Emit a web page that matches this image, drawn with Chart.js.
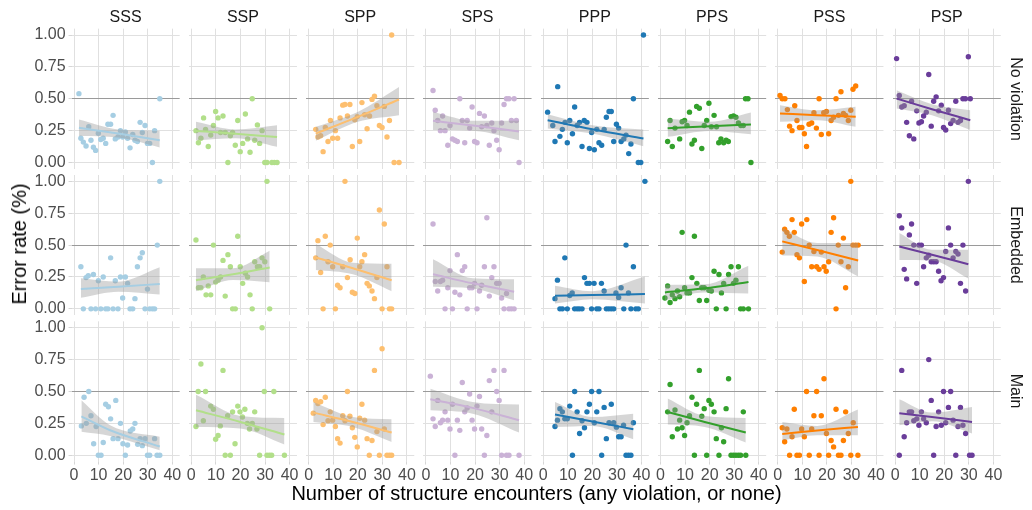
<!DOCTYPE html>
<html>
<head>
<meta charset="utf-8">
<script src="https://cdn.jsdelivr.net/npm/chart.js@4.4.1/dist/chart.umd.min.js"></script>
<style>
  body { margin: 0; background: #fff; }
  #stage { position: relative; width: 1032px; height: 510px; overflow: hidden; font-family: "Liberation Sans", Arial, sans-serif; }
  #stage canvas { position: absolute; left: 0; top: 0; }
  .lab { position: absolute; white-space: nowrap; line-height: 1; }
</style>
</head>
<body>
<div id="stage"></div>
<script>
// facets
const structures = ['SSS', 'SSP', 'SPP', 'SPS', 'PPP', 'PPS', 'PSS', 'PSP'];
const conditions = ['No violation', 'Embedded', 'Main'];
const colors = ['#a6cee3', '#b2df8a', '#fdbf6f', '#cab2d6', '#1f78b4', '#33a02c', '#ff7f00', '#6a3d9a'];
const xTicks = [0, 10, 20, 30, 40];
const yTicks = [0, 0.25, 0.5, 0.75, 1];

// [encounters, error rate] per facet
// --- No violation
const sssNone = [[2.0,.54],[2.8,.19],[3.8,.16],[4.9,.13],[6.0,.28],[6.9,.175],[7.9,.12],[8.8,.095],[9.9,.23],[10.9,.18],[11.9,.19],[12.9,.15],[13.8,.30],[14.9,.30],[15.9,.37],[16.8,.185],[17.9,.20],[18.9,.25],[19.8,.20],[20.9,.24],[21.8,.19],[22.8,.115],[23.9,.22],[24.8,.175],[25.8,.165],[26.9,.315],[27.8,.235],[28.9,.29],[29.9,.15],[30.8,.15],[31.9,0],[32.8,.25],[34.9,.5]];
const sspNone = [[1.9,.25],[2.9,.155],[3.9,.19],[5.0,.35],[5.8,.26],[6.9,.125],[7.9,.215],[9.0,.29],[9.9,.40],[10.9,.35],[11.9,.235],[12.9,.365],[13.8,.235],[14.9,0],[15.9,.21],[16.8,.235],[17.9,.135],[18.9,.33],[19.9,.085],[20.9,.15],[22.0,.38],[22.9,.185],[23.9,.08],[24.8,.5],[25.8,.175],[26.9,.295],[27.8,.15],[28.8,.25],[29.9,0],[30.8,0],[32.8,0],[33.8,0],[34.9,0]];
const sppNone = [[2.9,.26],[3.8,.20],[4.9,.21],[5.9,.085],[6.8,.275],[7.9,.165],[8.9,.33],[9.8,.19],[10.9,.25],[11.8,.19],[12.8,.35],[13.9,.45],[14.8,.455],[15.8,.365],[16.8,.455],[17.8,.125],[18.8,.335],[19.8,.36],[20.8,.165],[21.7,.47],[22.8,.375],[23.8,.265],[24.8,.365],[25.8,.495],[26.8,.52],[27.8,.445],[28.8,.29],[29.9,.275],[30.8,.44],[31.9,.20],[32.9,.33],[33.8,1],[34.8,0],[36.8,0]];
const spsNone = [[2.9,.565],[3.8,.41],[4.8,.33],[5.9,.25],[6.8,.365],[7.8,.25],[8.9,.135],[9.8,.29],[10.8,.185],[11.8,.175],[12.8,.165],[13.8,.5],[14.8,.33],[15.8,.155],[16.8,.33],[17.8,.27],[18.8,.435],[19.8,.165],[20.8,.155],[21.8,.385],[22.7,.28],[23.8,.365],[24.8,.29],[25.8,.135],[26.8,.31],[27.7,.25],[28.8,.175],[29.8,.10],[30.8,.31],[31.8,.455],[32.8,.5],[33.8,.5],[34.8,.33],[35.9,.5],[36.8,.33],[37.9,0]];
const pppNone = [[1.8,.395],[3.9,.29],[4.8,.165],[5.9,.595],[6.8,.205],[7.8,.26],[8.9,.315],[9.8,.155],[10.8,.33],[11.9,.225],[12.8,.435],[13.8,.29],[14.8,.315],[15.8,.125],[16.7,.33],[17.8,.315],[18.8,.11],[19.7,.235],[20.8,.10],[21.8,.26],[22.7,.155],[23.8,.135],[24.8,.26],[25.7,.355],[26.8,.40],[27.7,.40],[28.7,.165],[29.8,.30],[30.7,.27],[31.7,.165],[32.8,.185],[33.7,.215],[34.8,.07],[35.7,.145],[36.7,.5],[38.7,0],[39.7,0],[40.8,1]];
const ppsNone = [[2.9,.165],[3.9,.33],[4.8,.125],[5.9,.27],[7.8,.185],[8.8,.32],[9.8,.33],[10.8,.29],[11.8,.395],[12.8,.145],[13.8,.175],[14.7,.44],[15.8,.425],[16.8,.11],[17.8,.29],[18.8,.33],[19.7,.465],[20.7,.28],[21.8,.37],[22.8,.28],[23.7,.155],[24.6,.185],[25.7,.155],[26.7,.175],[27.6,.165],[28.7,.36],[29.7,.365],[30.7,.355],[31.7,.31],[32.7,.29],[33.7,.29],[34.6,.5],[35.6,.5],[36.8,0]];
const pssNone = [[0.9,.525],[1.8,.5],[2.9,.5],[3.9,.415],[4.8,.285],[5.8,.25],[6.9,.445],[7.8,.33],[8.8,.275],[9.8,.275],[10.8,.225],[11.7,.125],[12.7,.30],[13.8,.31],[14.7,.39],[15.7,.27],[16.8,.5],[17.7,.22],[18.7,.39],[19.8,.40],[20.7,.225],[21.7,.33],[22.7,.355],[23.7,.5],[24.7,.37],[25.7,.555],[26.7,.385],[27.6,.37],[28.7,.33],[29.7,.41],[30.6,.575],[31.7,.60]];
const pspNone = [[0.6,.815],[1.7,.525],[2.7,.435],[3.7,.445],[4.7,.315],[5.8,.21],[6.7,.48],[7.6,.185],[8.8,.405],[9.7,.31],[10.7,.32],[11.6,.365],[12.7,.395],[13.7,.69],[14.7,.285],[15.7,.48],[16.7,.515],[17.7,.405],[18.8,.45],[19.7,.275],[20.6,.255],[21.7,.41],[22.6,.305],[23.6,.33],[24.7,.48],[25.6,.315],[26.6,.33],[27.6,.5],[28.6,.5],[29.8,.83],[30.6,.5]];
// --- Embedded
const sssEmb = [[2.8,.33],[3.8,0],[4.9,.245],[5.8,.26],[6.9,0],[7.9,.27],[8.8,0],[9.9,.22],[10.9,0],[11.9,.25],[12.9,0],[13.8,0],[14.9,.4],[15.9,0],[16.8,.22],[17.9,0],[18.9,.25],[19.8,.085],[20.9,.25],[21.8,.2],[22.8,0],[23.9,0],[24.8,.08],[25.8,.33],[26.9,.4],[27.8,.44],[28.9,0],[29.9,.155],[30.8,0],[31.9,0],[32.8,0],[33.9,.5],[34.9,1]];
const sspEmb = [[1.9,.54],[2.9,.165],[3.9,.165],[4.9,.25],[6.0,.11],[6.9,.18],[7.9,.11],[9.0,.5],[9.9,.21],[10.9,.225],[11.9,.25],[12.9,.38],[13.8,.1],[14.9,.425],[15.9,.33],[16.8,0],[17.9,0],[18.9,.57],[19.9,.33],[20.9,.2],[22.0,.28],[22.9,.25],[23.9,.11],[24.8,0],[25.8,.37],[26.9,.33],[27.8,.33],[28.8,.4],[29.9,.37],[30.8,1],[31.9,0]];
const sppEmb = [[2.9,.4],[3.8,.535],[4.9,.285],[5.9,0],[6.8,.57],[7.9,.37],[8.8,.5],[9.8,.33],[10.9,0],[11.8,.185],[12.8,.165],[13.9,.33],[14.8,1],[15.8,.245],[16.9,.385],[17.8,.13],[18.8,.12],[19.8,.555],[20.8,.33],[21.7,.37],[22.8,.425],[23.8,.2],[24.7,.18],[25.8,.14],[26.8,.08],[27.8,.245],[28.8,.775],[29.9,0],[30.8,.665],[31.9,.33],[32.9,0],[33.8,0]];
const spsEmb = [[2.9,.665],[3.8,.215],[4.8,.14],[5.9,.215],[6.8,.225],[7.8,0],[8.9,.165],[9.8,.3],[10.8,0],[11.8,.13],[12.8,.425],[13.8,.11],[14.8,.3],[15.8,.33],[16.8,0],[17.8,.165],[18.8,.165],[19.8,.2],[20.8,0],[21.8,.14],[22.7,.185],[23.8,.33],[24.8,.715],[25.8,.1],[26.8,.245],[27.7,.33],[28.8,.2],[29.8,.2],[30.8,.085],[31.8,0],[32.8,.12],[33.8,0],[34.8,0],[35.9,0]];
const pppEmb = [[4.8,.08],[5.8,.225],[6.8,0],[7.8,0],[8.8,.4],[9.8,0],[10.8,.105],[11.8,.125],[12.8,0],[13.8,0],[14.7,0],[15.8,0],[16.8,.245],[17.8,.2],[18.8,.2],[19.7,0],[20.7,.2],[21.8,0],[22.7,0],[23.7,.2],[24.8,.14],[25.7,0],[26.7,0],[27.7,0],[28.7,0],[29.6,.125],[30.7,.09],[31.7,.165],[32.8,0],[33.7,.5],[34.7,.125],[35.7,0],[36.7,.33],[37.7,0],[38.7,0],[41.4,1]];
const ppsEmb = [[1.8,.085],[2.9,.18],[3.9,.05],[4.8,.11],[5.9,.08],[6.9,.14],[7.8,.095],[8.8,.6],[9.8,.165],[10.8,.125],[11.8,.125],[12.8,.245],[13.8,.57],[14.8,.2],[15.8,.065],[16.8,.165],[17.8,.165],[18.8,.065],[19.7,.145],[20.7,.14],[21.8,.295],[22.7,0],[23.8,.27],[24.8,.125],[25.7,.2],[26.7,0],[27.7,.27],[28.7,.33],[29.7,.2],[30.7,.225],[31.7,.33],[32.6,0],[33.7,0],[35.8,0]];
const pssEmb = [[1.8,.445],[2.8,.625],[3.7,.6],[4.7,.57],[5.8,.7],[6.7,.6],[7.8,.425],[8.8,.4],[9.7,.665],[10.8,.215],[11.8,.7],[12.8,.5],[13.8,.33],[14.7,.45],[15.8,.33],[16.8,.31],[17.7,.445],[18.8,.33],[19.7,.295],[20.7,.37],[21.7,.6],[22.7,.715],[23.7,0],[24.6,.5],[25.7,.37],[26.7,.555],[27.6,.165],[28.7,.33],[29.7,1],[30.6,.5],[31.7,.5],[32.7,.5]];
const pspEmb = [[1.7,.73],[2.7,.635],[3.7,.31],[4.7,.235],[5.8,.58],[6.7,.665],[7.6,.5],[8.8,.2],[9.7,.5],[10.7,.5],[11.6,.33],[12.7,.4],[13.7,.42],[14.7,.37],[15.7,.37],[16.7,.37],[17.7,.295],[18.7,.22],[19.7,.245],[20.6,.45],[21.7,.635],[22.6,.5],[23.6,.4],[24.7,.45],[25.6,.43],[26.6,.2],[27.6,.5],[28.7,.14],[29.8,1]];
// --- Main
const sssMain = [[3.0,.23],[4.1,.455],[5.0,.25],[6.0,.5],[6.9,.31],[8.0,.09],[9.0,.225],[9.9,0],[11.0,0],[11.9,.1],[12.9,.4],[14.0,.38],[14.9,.285],[15.9,.13],[17.0,.43],[17.9,.13],[18.9,.25],[19.9,.09],[20.9,0],[21.8,.08],[22.9,.19],[23.9,.205],[24.8,.25],[25.9,.085],[26.9,.13],[27.8,.075],[28.9,.13],[29.9,0],[30.8,0],[32.8,.13],[33.8,0],[34.9,0]];
const sspMain = [[1.9,.225],[2.8,.5],[3.9,.715],[4.9,.27],[5.8,.5],[7.9,.385],[9.0,.36],[9.9,.125],[10.9,.155],[11.8,.23],[12.9,.665],[13.8,0],[14.8,.31],[15.9,0],[16.8,.34],[17.8,.09],[18.9,.385],[19.8,.34],[20.8,.3],[21.8,.36],[22.8,.25],[23.7,.205],[24.8,.25],[25.8,.34],[26.7,.205],[27.8,0],[28.8,1],[29.7,.5],[30.8,0],[31.8,0],[32.7,0],[33.6,.5],[37.9,0]];
const sppMain = [[1.9,.33],[2.9,.43],[3.8,.405],[4.9,.42],[5.9,.24],[6.8,.455],[7.9,.27],[8.8,.34],[9.8,.275],[10.9,.225],[11.8,.13],[12.8,.095],[13.9,.31],[14.8,.27],[15.8,.5],[16.8,.305],[17.8,.215],[18.8,.14],[19.8,.065],[20.8,.29],[21.7,.4],[22.8,.275],[23.8,.13],[24.7,0],[25.8,.115],[26.8,.665],[27.8,.185],[28.8,0],[29.9,.835],[30.8,.205],[31.9,0],[32.9,0],[33.8,0]];
const spsMain = [[1.8,.62],[2.9,.285],[3.8,.225],[4.8,.43],[5.9,.255],[6.8,.275],[7.8,.34],[8.9,.275],[9.8,.205],[10.8,.4],[11.8,0],[12.8,.275],[13.8,.195],[14.8,.57],[15.8,.34],[16.8,.37],[17.8,.48],[18.8,.275],[19.8,.205],[20.8,.385],[21.8,.46],[22.7,.205],[23.8,0],[24.8,.155],[25.8,.585],[26.8,.34],[27.7,.665],[28.8,.5],[29.8,.43],[30.8,0],[31.8,.665],[32.8,0],[33.8,0],[37.9,0]];
const pppMain = [[4.8,.225],[5.8,.275],[6.8,.365],[7.8,.34],[8.8,.285],[9.8,.285],[10.8,.385],[11.9,0],[12.8,.5],[13.8,.34],[14.8,.17],[15.8,.27],[16.8,.215],[17.8,.34],[18.8,.4],[19.7,.5],[20.8,.255],[21.8,.34],[22.7,.5],[23.8,0],[24.8,.375],[25.7,.13],[26.8,.255],[27.7,.4],[28.7,.255],[29.8,.22],[30.7,.145],[31.7,.145],[32.7,.235],[33.7,0],[34.7,0],[35.7,0],[36.7,.255]];
const ppsMain = [[2.9,.34],[3.9,.555],[4.8,.145],[5.9,.355],[6.9,.205],[7.8,.275],[8.8,.215],[9.8,.155],[10.8,.255],[11.8,.31],[12.8,.455],[13.8,0],[14.7,.4],[15.8,.665],[16.8,.305],[17.8,.365],[18.8,0],[19.7,.43],[20.7,.4],[21.8,.34],[22.7,.13],[23.8,0],[24.8,.215],[25.7,.105],[26.7,.365],[27.7,.6],[28.7,0],[29.7,0],[30.7,0],[31.7,0],[32.6,0],[33.7,.34],[34.7,0]];
const pssMain = [[1.8,.215],[2.8,.105],[3.7,.205],[4.8,0],[5.8,.145],[6.7,.36],[7.8,0],[8.8,0],[9.7,.205],[10.8,.145],[11.7,.5],[12.8,0],[13.8,.205],[14.7,.31],[15.8,.5],[16.8,0],[17.7,.31],[18.8,.6],[19.8,.17],[20.7,0],[21.7,.115],[22.7,.065],[23.7,.36],[24.7,0],[25.7,0],[26.7,.115],[27.6,.34],[28.7,.17],[29.7,0],[30.7,.255],[32.6,0]];
const pspMain = [[1.7,0],[2.7,.665],[3.7,.145],[4.7,.255],[5.8,.34],[6.7,.34],[7.6,.27],[8.8,.285],[9.7,.235],[10.7,.34],[11.6,.285],[12.7,.255],[13.7,.75],[14.7,.43],[15.7,0],[16.7,.225],[17.7,.34],[18.8,.235],[19.7,.5],[20.6,.255],[21.7,.375],[22.6,.5],[23.6,.275],[24.7,0],[25.6,.225],[26.6,.375],[27.6,.235],[28.7,.17],[30.3,0],[31.3,0]];

// smoother: [x, fit, lower, upper] at start, middle, end
const smoothNone = [
    [[2.0,.272,.207,.337],[18,.227,.196,.259],[34.9,.175,.118,.248]],
    [[1.9,.248,.175,.319],[18,.225,.191,.259],[34.9,.20,.123,.293]],
    [[2.9,.227,.17,.28],[20,.358,.319,.397],[36.8,.494,.371,.593]],
    [[2.9,.327,.254,.397],[20,.288,.248,.327],[37.9,.243,.175,.327]],
    [[1.8,.332,.267,.379],[20,.261,.227,.293],[40.8,.188,.128,.259]],
    [[2.9,.269,.201,.345],[20,.285,.248,.319],[36.8,.298,.222,.392]],
    [[0.9,.384,.319,.45],[16,.371,.332,.41],[31.7,.358,.28,.437]],
    [[0.6,.502,.424,.567],[15,.418,.371,.457],[30.6,.332,.254,.41]],
];
const smoothEmb = [
    [[2.8,.155,.087,.24],[18,.174,.134,.213],[34.9,.195,.113,.326]],
    [[1.9,.224,.139,.318],[17,.271,.226,.318],[31.9,.324,.208,.455]],
    [[2.9,.403,.305,.508],[18,.318,.271,.361],[33.8,.224,.139,.353]],
    [[2.9,.271,.174,.389],[19,.2,.16,.24],[35.9,.134,.068,.232]],
    [[4.8,.103,.042,.182],[20,.108,.076,.139],[41.4,.116,.042,.253]],
    [[1.8,.129,.068,.187],[18,.161,.129,.192],[35.8,.211,.121,.339]],
    [[1.8,.529,.418,.634],[16,.461,.41,.516],[32.7,.379,.253,.516]],
    [[1.7,.489,.384,.595],[15,.424,.379,.463],[29.8,.35,.239,.463]],
];
const smoothMain = [
    [[3.0,.305,.183,.431],[14.7,.196,.151,.235],[34.9,.068,.039,.144]],
    [[1.9,.352,.222,.475],[20,.261,.209,.308],[37.9,.162,.084,.292]],
    [[1.9,.334,.261,.418],[18,.261,.222,.30],[33.8,.178,.104,.282]],
    [[1.8,.439,.352,.522],[19,.371,.326,.418],[37.9,.274,.178,.397]],
    [[4.8,.319,.222,.418],[20,.264,.23,.30],[36.7,.204,.125,.326]],
    [[2.9,.339,.24,.444],[18,.261,.222,.308],[34.7,.178,.099,.292]],
    [[1.8,.167,.117,.261],[16,.193,.157,.23],[32.6,.222,.157,.358]],
    [[1.7,.329,.235,.439],[15,.30,.266,.334],[31.3,.261,.17,.379]],
];

const panels = [
    [sssNone, sspNone, sppNone, spsNone, pppNone, ppsNone, pssNone, pspNone],
    [sssEmb, sspEmb, sppEmb, spsEmb, pppEmb, ppsEmb, pssEmb, pspEmb],
    [sssMain, sspMain, sppMain, spsMain, pppMain, ppsMain, pssMain, pspMain],
];
const smooths = [smoothNone, smoothEmb, smoothMain];

// layout (pixels)
const W = 1032, H = 510;
const xMin = -1, xMax = 43, yMin = -0.05, yMax = 1.05;
const xUnit = 2.4575, yUnit = 127.5;
const plotW = (xMax - xMin) * xUnit, plotH = (yMax - yMin) * yUnit;
const left0 = 74 + xMin * xUnit, top0 = 35 - (yMax - 1) * yUnit;
const colStep = 117.3, rowStep = 146.35;
const axisH = 24;
const tickFont = {family: 'Liberation Sans', size: 16};

const stage = document.getElementById('stage');

const makePanel = (r, c) => {
    const L = left0 + c * colStep, T = top0 + r * rowStep;
    const first = c === 0, last = r === conditions.length - 1;
    const pts = panels[r][c];
    const sm = smooths[r][c];
    const col = colors[c];

    const canvas = document.createElement('canvas');
    canvas.width = W; canvas.height = H;
    stage.appendChild(canvas);

    const curve = {type: 'line', pointRadius: 0, cubicInterpolationMode: 'monotone'};
    new Chart(canvas.getContext('2d'), {
        type: 'scatter',
        data: {
            datasets: [
                {data: pts.map(([x, y]) => ({x, y})), backgroundColor: col, borderWidth: 0, pointRadius: 2.7, order: 3},
                {...curve, data: sm.map(s => ({x: s[0], y: s[2]})), borderWidth: 0, fill: false, order: 2},
                {...curve, data: sm.map(s => ({x: s[0], y: s[3]})), borderWidth: 0, fill: '-1', backgroundColor: 'rgba(153,153,153,0.4)', order: 2},
                {...curve, data: sm.map(s => ({x: s[0], y: s[1]})), borderColor: col, borderWidth: 2, fill: false, order: 1},
            ]
        },
        options: {
            responsive: false,
            animation: false,
            devicePixelRatio: 1,
            layout: {padding: {
                left: first ? 0 : L,
                top: T,
                right: W - L - plotW,
                bottom: last ? H - T - plotH - axisH : H - T - plotH,
            }},
            plugins: {legend: {display: false}, tooltip: {enabled: false}},
            scales: {
                x: {
                    type: 'linear', min: xMin, max: xMax,
                    afterBuildTicks: (s) => { s.ticks = xTicks.map(v => ({value: v})); },
                    afterFit: (s) => { s.height = last ? axisH : 0; s.paddingLeft = 0; s.paddingRight = 0; },
                    border: {display: false},
                    grid: {color: '#e0e0e0', lineWidth: 1, drawTicks: last, tickLength: 3, tickColor: '#d6d6d6'},
                    ticks: {display: last, font: tickFont, color: '#4d4d4d', padding: 1, maxRotation: 0},
                },
                y: {
                    type: 'linear', min: yMin, max: yMax,
                    afterBuildTicks: (s) => { s.ticks = yTicks.map(v => ({value: v})); },
                    afterFit: (s) => { s.width = first ? L : 0; s.paddingTop = 0; s.paddingBottom = 0; },
                    border: {display: false},
                    grid: {
                        color: (ctx) => ctx.tick && ctx.tick.value === 0.5 ? '#9a9a9a' : '#e0e0e0',
                        lineWidth: 1, drawTicks: first, tickLength: 3, tickColor: '#d6d6d6',
                    },
                    ticks: {display: first, font: tickFont, color: '#4d4d4d', padding: 3, callback: (v) => v.toFixed(2)},
                },
            },
        },
    });
};

conditions.forEach((cond, r) => structures.forEach((st, c) => makePanel(r, c)));

// strip labels and axis titles
const addLabel = (text, x, y, size, color, rot) => {
    const d = document.createElement('div');
    d.className = 'lab';
    d.textContent = text;
    d.style.left = x + 'px';
    d.style.top = y + 'px';
    d.style.fontSize = size + 'px';
    d.style.color = color;
    d.style.transform = `translate(-50%, -50%) rotate(${rot || 0}deg)`;
    stage.appendChild(d);
};
structures.forEach((st, c) => addLabel(st, left0 + c * colStep + plotW / 2, 16.5, 16, '#1a1a1a'));
conditions.forEach((cond, r) => addLabel(cond, 1015.5, top0 + r * rowStep + plotH / 2, 16, '#1a1a1a', 90));
addLabel('Error rate (%)', 19, 244, 20, '#000', -90);
addLabel('Number of structure encounters (any violation, or none)', 536.5, 493, 20, '#000');
</script>
</body>
</html>
